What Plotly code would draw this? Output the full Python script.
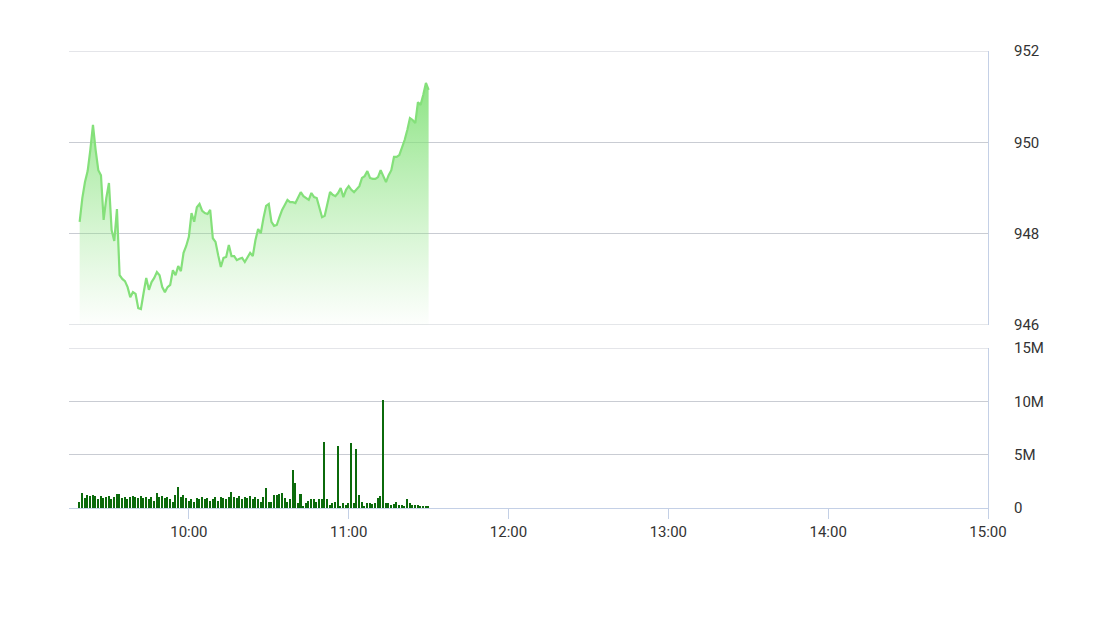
import plotly.graph_objects as go
from datetime import datetime, timedelta

# ---- data ----
session_day = "2024-01-02"
first_minute = "09:19"
axis_start = "09:15"
axis_end = "15:00"

prices = [
    948.26, 948.78, 949.13, 949.37, 949.83, 950.38, 949.83, 949.39, 949.28, 948.30,
    948.78, 949.11, 948.08, 947.84, 948.54, 947.09, 947.01, 946.96, 946.83, 946.61,
    946.72, 946.68, 946.37, 946.35, 946.70, 947.03, 946.77, 946.94, 947.03, 947.16,
    947.09, 946.83, 946.72, 946.83, 946.88, 947.20, 947.09, 947.29, 947.18, 947.58,
    947.73, 947.93, 948.45, 948.26, 948.58, 948.65, 948.50, 948.45, 948.43, 948.52,
    947.90, 947.82, 947.53, 947.27, 947.47, 947.49, 947.75, 947.51, 947.51, 947.42,
    947.45, 947.47, 947.38, 947.47, 947.58, 947.51, 947.86, 948.10, 948.01, 948.34,
    948.61, 948.65, 948.26, 948.17, 948.19, 948.36, 948.52, 948.63, 948.74, 948.69,
    948.69, 948.67, 948.80, 948.91, 948.82, 948.78, 948.74, 948.89, 948.80, 948.78,
    948.56, 948.36, 948.39, 948.63, 948.91, 948.85, 948.82, 948.89, 949.00, 948.80,
    948.96, 949.04, 948.96, 948.91, 948.98, 949.04, 949.22, 949.26, 949.37, 949.22,
    949.20, 949.20, 949.24, 949.39, 949.26, 949.13, 949.28, 949.39, 949.68, 949.68,
    949.72, 949.88, 950.05, 950.27, 950.53, 950.49, 950.42, 950.88, 950.82, 951.04,
    951.30, 951.15,
]

volumes_m = [
    0.6, 1.4, 0.9, 1.2, 1.1, 1.2, 1.1, 0.8, 1.1, 0.9,
    1.0, 1.1, 0.8, 1.0, 1.3, 1.3, 0.9, 1.0, 0.8, 1.0,
    1.1, 1.0, 0.9, 1.1, 0.9, 1.0, 0.8, 1.0, 0.7, 1.4,
    1.0, 1.1, 0.9, 1.0, 0.8, 0.6, 1.2, 2.0, 1.0, 1.2,
    0.9, 0.7, 0.8, 0.6, 0.9, 0.8, 1.0, 0.8, 0.9, 0.7,
    0.8, 1.0, 0.7, 1.0, 0.9, 0.8, 1.0, 1.5, 1.0, 0.9,
    1.1, 0.8, 1.0, 0.9, 1.1, 0.85, 1.0, 0.8, 0.6, 1.0,
    1.9, 0.6, 0.6, 1.2, 1.2, 1.3, 1.4, 0.9, 0.6, 0.8,
    3.6, 2.3, 0.5, 1.3, 0.2, 0.5, 0.7, 0.8, 0.8, 0.6,
    0.8, 0.8, 6.2, 0.8, 0.3, 0.5, 0.6, 5.8, 0.2, 0.5,
    0.3, 0.5, 6.1, 0.5, 5.5, 1.2, 0.6, 0.2, 0.5, 0.5,
    0.4, 0.5, 0.9, 1.1, 10.1, 0.5, 0.5, 0.3, 0.4, 0.6,
    0.3, 0.3, 0.2, 0.8, 0.5, 0.3, 0.3, 0.3, 0.2, 0.2,
    0.2, 0.1,
]

hour_labels = ["10:00", "11:00", "12:00", "13:00", "14:00", "15:00"]
price_ticks = [946, 948, 950, 952]
volume_ticks = [0, 5, 10, 15]
volume_tick_text = ["0", "5M", "10M", "15M"]

# ---- build ----
def ts(hhmm):
    return datetime.strptime(f"{session_day} {hhmm}", "%Y-%m-%d %H:%M")

t0 = ts(first_minute)
n = min(len(prices), len(volumes_m))
times = [t0 + timedelta(minutes=i) for i in range(n)]
volumes = [v * 1e6 for v in volumes_m[:n]]

GRID = "#c9ccd3"
AXIS = "#c4d0e6"
TXT = "#333333"
FONT = "Roboto"

fig = go.Figure()

fig.add_trace(go.Scatter(
    x=times, y=prices[:n], mode="lines",
    line=dict(color="#84e07a", width=2.2),
    fill="tozeroy",
    fillgradient=dict(
        type="vertical",
        colorscale=[[0, "rgba(150,230,140,0.02)"], [1, "rgba(125,224,115,0.9)"]],
        start=946, stop=951.4,
    ),
    xaxis="x", yaxis="y", hoverinfo="skip", showlegend=False,
))

fig.add_trace(go.Bar(
    x=times, y=volumes,
    marker=dict(color="#0b6a0b", line=dict(width=0)),
    width=34000,
    xaxis="x2", yaxis="y2", hoverinfo="skip", showlegend=False,
))

x_range = [ts(axis_start), ts(axis_end)]
hour_vals = [ts(h) for h in hour_labels]

top_bottom = (508 - 325) / 457
bot_top = (508 - 348) / 457

# boundary grid lines (plotly omits grid lines at the range edges)
for yv, yr in [(952, "y"), (946, "y"), (15e6, "y2")]:
    fig.add_shape(type="line", xref="paper", yref=yr, x0=0, x1=1, y0=yv, y1=yv,
                  line=dict(color=GRID, width=1), layer="below")

fig.update_layout(
    width=1091, height=609,
    margin=dict(l=61, r=111, t=43, b=109),
    paper_bgcolor="white", plot_bgcolor="white",
    font=dict(family=FONT, size=15, color=TXT),
    bargap=0,
    xaxis=dict(
        domain=[0, 1], anchor="y", range=x_range, type="date",
        showticklabels=False, showgrid=False, zeroline=False, showline=False,
        ticks="",
    ),
    yaxis=dict(
        domain=[top_bottom, 1], anchor="x", range=[946, 952], side="right",
        tickvals=price_ticks, ticktext=[str(v) for v in price_ticks],
        showgrid=True, gridcolor=GRID, gridwidth=1, zeroline=False,
        showline=True, linecolor=AXIS, linewidth=1,
        ticks="", ticklabelstandoff=22,
        tickfont=dict(family=FONT, size=15, color=TXT),
    ),
    xaxis2=dict(
        domain=[0, 1], anchor="y2", range=x_range, type="date",
        tickvals=hour_vals, ticktext=hour_labels,
        showgrid=False, zeroline=False,
        showline=True, linecolor=AXIS, linewidth=1,
        ticks="outside", ticklen=10, tickcolor=AXIS, tickwidth=1,
        tickfont=dict(family=FONT, size=15, color=TXT),
    ),
    yaxis2=dict(
        domain=[0, bot_top], anchor="x2", range=[0, 15e6], side="right",
        tickvals=[v * 1e6 for v in volume_ticks], ticktext=volume_tick_text,
        showgrid=True, gridcolor=GRID, gridwidth=1, zeroline=False,
        showline=True, linecolor=AXIS, linewidth=1,
        ticks="", ticklabelstandoff=22,
        tickfont=dict(family=FONT, size=15, color=TXT),
    ),
)

fig.write_html("out.html")
